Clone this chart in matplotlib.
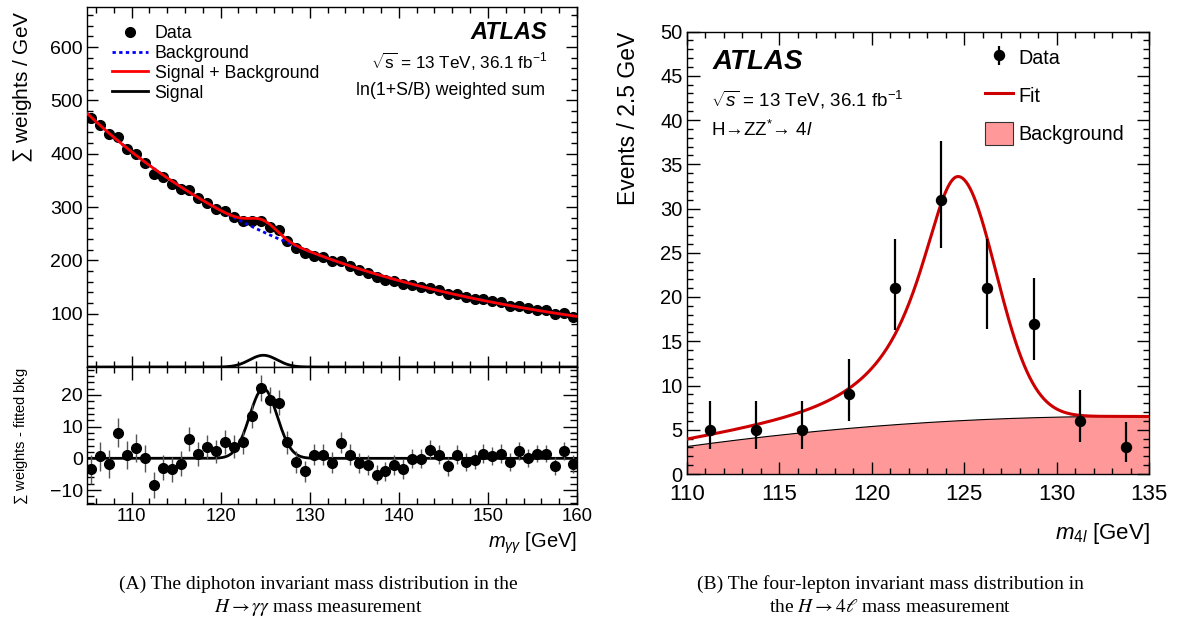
import numpy as np
import matplotlib
matplotlib.use('Agg')
import matplotlib.pyplot as plt
from matplotlib.lines import Line2D
from matplotlib.patches import Patch
from matplotlib.ticker import MultipleLocator

plt.rcParams['font.family'] = ['Liberation Sans', 'DejaVu Sans']
plt.rcParams['mathtext.fontset'] = 'custom'
plt.rcParams['mathtext.rm'] = 'Liberation Sans'
plt.rcParams['mathtext.it'] = 'Liberation Sans:italic'
plt.rcParams['mathtext.bf'] = 'Liberation Sans:bold'

# ---- (a) H -> yy : ln(1+S/B) weighted sums in 1 GeV bins ----
myy = np.arange(105.5, 160.0, 1.0)
yy_sum = [466, 453, 436, 431, 409, 399, 382, 362, 356, 343,
          334, 331, 316, 308, 297, 292, 281, 274, 273, 274,
          263, 256, 236, 223, 214, 209, 207, 198, 199, 189,
          181, 176, 168, 163, 161, 156, 153, 150, 148, 144,
          136, 136, 131, 128, 127, 123, 121, 114, 114, 110,
          107, 106, 99, 102, 94]
yy_resid = [-3.5, 0.7, -1.8, 8.1, 1.0, 3.3, 0.0, -8.5, -2.9, -3.5,
            -1.7, 6.1, 1.5, 3.5, 2.2, 5.1, 3.7, 5.1, 13.3, 22.2,
            18.4, 17.6, 5.0, -1.2, -4.1, 1.2, 1.2, -1.4, 4.9, 1.2,
            -1.4, -2.2, -5.1, -4.1, -2.0, -3.3, -0.1, -0.1, 2.7, 1.2,
            -2.5, 1.2, -1.2, -0.4, 1.5, 0.7, 1.5, -1.2, 2.3, 0.2,
            1.5, 1.5, -2.5, 2.3, -1.7]
yy_err = [4.6, 4.6, 4.5, 4.5, 4.4, 4.3, 4.2, 4.1, 4.0, 4.0,
          3.9, 3.9, 3.8, 3.8, 3.7, 3.7, 3.6, 3.6, 3.8, 4.2,
          4.0, 3.9, 3.5, 3.4, 3.4, 3.4, 3.3, 3.3, 3.3, 3.2,
          3.2, 3.2, 3.1, 3.1, 3.1, 3.1, 3.0, 3.0, 3.0, 3.0,
          3.0, 3.0, 2.9, 2.9, 2.9, 2.9, 2.9, 2.9, 2.9, 2.8,
          2.8, 2.8, 2.8, 2.8, 2.8]
YY_BKG = (6.165, -1.832, 0.2185)   # ln B = p0 + p1 t + p2 t^2, t = (m - 105) / 55
YY_SIG = (22.0, 124.8, 1.55)       # height, mean, sigma

# ---- (b) H -> ZZ* -> 4l : events in 2.5 GeV bins ----
m4l = np.arange(111.25, 135.0, 2.5)
n4l = [5, 5, 5, 9, 21, 31, 21, 17, 6, 3]
n4l_lo = [2.2, 2.2, 2.2, 3.05, 4.7, 5.5, 4.6, 4.1, 2.4, 1.7]
n4l_hi = [3.3, 3.3, 3.3, 4.0, 5.6, 6.6, 5.6, 5.2, 3.5, 2.9]
ZZ_BKG = (3.1, 0.2874, -0.00606)   # quadratic in (m - 110)
ZZ_SIG = (27.6, 124.65, 2.6, 2.05)  # height, mean, left width, right sigma


def yy_bkg(m):
    t = (m - 105.0) / 55.0
    return np.exp(YY_BKG[0] + YY_BKG[1] * t + YY_BKG[2] * t ** 2)


def yy_sig(m):
    a, mu, s = YY_SIG
    return a * np.exp(-0.5 * ((m - mu) / s) ** 2)


def zz_bkg(m):
    d = m - 110.0
    return ZZ_BKG[0] + ZZ_BKG[1] * d + ZZ_BKG[2] * d ** 2


def zz_sig(m):
    a, mu, gl, sr = ZZ_SIG
    d = m - mu
    return np.where(d < 0, a / (1 + (d / gl) ** 2), a * np.exp(-0.5 * (d / sr) ** 2))


def root_ticks(ax, major, minor, size):
    ax.tick_params(which='both', direction='in', top=True, right=True, width=1.0, labelsize=size)
    ax.tick_params(which='major', length=major)
    ax.tick_params(which='minor', length=minor)
    for s in ax.spines.values():
        s.set_linewidth(1.0)


W, H = 1180, 628
fig = plt.figure(figsize=(W / 100, H / 100), dpi=100)
ax1 = fig.add_axes([87 / W, 1 - 367 / H, 490 / W, 360 / H])
ax2 = fig.add_axes([87 / W, 1 - 504 / H, 490 / W, 137 / H], sharex=ax1)
ax3 = fig.add_axes([686.7 / W, 1 - 474 / H, 462.6 / W, 442.5 / H])

mm = np.linspace(105, 160, 600)

# --- top: weighted sum ---
ax1.plot(mm, yy_bkg(mm), color='blue', ls=(0, (1.2, 1.2)), lw=2.0, zorder=3)
ax1.plot(mm, yy_bkg(mm) + yy_sig(mm), color='red', lw=2.0, zorder=4)
ax1.plot(mm, yy_sig(mm), color='black', lw=2.0, zorder=4)
ax1.errorbar(myy, yy_sum, yerr=yy_err, fmt='o', color='black', ms=7, elinewidth=1.0, zorder=2)
ax1.set_xlim(105, 160)
ax1.set_ylim(0, 675)
ax1.set_yticks([100, 200, 300, 400, 500, 600])
ax1.yaxis.set_minor_locator(MultipleLocator(20))
ax1.xaxis.set_major_locator(MultipleLocator(10))
ax1.xaxis.set_minor_locator(MultipleLocator(2))
root_ticks(ax1, 8, 4.5, 14)
ax1.tick_params(axis='x', labelbottom=False)
ax1.tick_params(axis='y', pad=3)
ax1.set_ylabel(r'$\sum$ weights / GeV', fontsize=15, loc='top')
ax1.yaxis.set_label_coords(-0.106, 0.99)

handles = [Line2D([], [], marker='o', ls='none', color='black', ms=7),
           Line2D([], [], color='blue', ls=(0, (1.2, 1.2)), lw=2.0),
           Line2D([], [], color='red', lw=2.0),
           Line2D([], [], color='black', lw=2.0)]
ax1.legend(handles, ['Data', 'Background', 'Signal + Background', 'Signal'],
           loc='upper left', bbox_to_anchor=(0.051, 0.95), frameon=False, fontsize=12.8,
           borderpad=0, borderaxespad=0, labelspacing=0.16, handlelength=2.0, handletextpad=0.4)
ax1.text(0.939, 0.928, 'ATLAS', transform=ax1.transAxes, ha='right', va='center',
         fontsize=17, fontweight='bold', style='italic')
ax1.text(0.939, 0.847, r'$\sqrt{\mathrm{s}}$ = 13 TeV, 36.1 fb$^{-1}$', transform=ax1.transAxes,
         ha='right', va='center', fontsize=12.3)
ax1.text(0.935, 0.767, 'ln(1+S/B) weighted sum', transform=ax1.transAxes,
         ha='right', va='center', fontsize=12.8)

# --- bottom: background subtracted ---
ax2.plot(mm, yy_sig(mm), color='black', lw=2.0, zorder=3)
ax2.errorbar(myy, yy_resid, yerr=yy_err, fmt='o', color='black', ecolor='#555555',
             ms=7, elinewidth=1.0, zorder=4)
ax2.set_ylim(-14.4, 28.8)
ax2.set_yticks([-10, 0, 10, 20])
ax2.yaxis.set_minor_locator(MultipleLocator(2))
root_ticks(ax2, 9, 4.5, 14)
ax2.tick_params(axis='y', which='major', length=10, pad=3)
ax2.tick_params(axis='y', which='minor', length=5)
ax2.tick_params(axis='x', pad=3, labelsize=13.3)
ax2.set_ylabel(r'$\sum$ weights - fitted bkg', fontsize=10.5, loc='top')
ax2.yaxis.set_label_coords(-0.116, 1.0)
ax2.set_xlabel(r'$m_{\gamma\gamma}$ [GeV]', fontsize=14.5, loc='right')
ax2.xaxis.set_label_coords(1.0, -0.197)

# --- (b) four-lepton ---
m2 = np.linspace(110, 135, 500)
ax3.fill_between(m2, 0, zz_bkg(m2), facecolor='#ff9999', edgecolor='none', zorder=1)
ax3.plot(m2, zz_bkg(m2), color='black', lw=0.8, zorder=2)
ax3.plot(m2, zz_bkg(m2) + zz_sig(m2), color='#cc0000', lw=2.2, zorder=3)
ax3.errorbar(m4l, n4l, yerr=[n4l_lo, n4l_hi], fmt='o', color='black', ms=7.2,
             elinewidth=1.6, zorder=4)
ax3.set_xlim(110, 135)
ax3.set_ylim(0, 50)
ax3.xaxis.set_major_locator(MultipleLocator(5))
ax3.xaxis.set_minor_locator(MultipleLocator(1))
ax3.yaxis.set_major_locator(MultipleLocator(5))
ax3.yaxis.set_minor_locator(MultipleLocator(1))
root_ticks(ax3, 9, 4.5, 14.5)
ax3.tick_params(axis='x', labelsize=16, pad=7)
ax3.tick_params(axis='y', pad=3)
ax3.set_ylabel('Events / 2.5 GeV', fontsize=16.5, loc='top')
ax3.yaxis.set_label_coords(-0.101, 1.0)
ax3.set_xlabel(r'$m_{4l}$ [GeV]', fontsize=16, loc='right')
ax3.xaxis.set_label_coords(1.0, -0.106)

h_data = ax3.errorbar([], [], yerr=[], fmt='o', color='black', ms=7.2, elinewidth=1.6)
handles = [h_data, Line2D([], [], color='#cc0000', lw=2.2),
           Patch(facecolor='#ff9999', edgecolor='#333333', lw=0.8)]
ax3.legend(handles, ['Data', 'Fit', 'Background'], loc='upper left',
           bbox_to_anchor=(0.645, 0.966), frameon=False, fontsize=14.2, borderpad=0,
           borderaxespad=0, labelspacing=0.8, handlelength=1.4, handleheight=1.35,
           handletextpad=0.3)
ax3.text(0.055, 0.931, 'ATLAS', transform=ax3.transAxes, ha='left', va='center',
         fontsize=20, fontweight='bold', style='italic')
ax3.text(0.053, 0.845, r'$\sqrt{s}$ = 13 TeV, 36.1 fb$^{-1}$', transform=ax3.transAxes,
         ha='left', va='center', fontsize=13.5)
ax3.text(0.053, 0.777, r'H→ZZ$^{*}$→ 4$l$', transform=ax3.transAxes,
         ha='left', va='center', fontsize=13.5)

# --- captions ---
cap = dict(family='Liberation Serif', fontsize=14, ha='center', va='center', math_fontfamily='stix')
fig.text(318 / W, 1 - 584 / H, '(A) The diphoton invariant mass distribution in the', **cap)
fig.text(318 / W, 1 - 607 / H, r'$H \rightarrow \gamma\gamma$ mass measurement', **cap)
fig.text(890 / W, 1 - 584 / H, '(B) The four-lepton invariant mass distribution in', **cap)
fig.text(890 / W, 1 - 607 / H, r'the $H \rightarrow 4\ell$ mass measurement', **cap)

fig.savefig('out.png', dpi=100)
